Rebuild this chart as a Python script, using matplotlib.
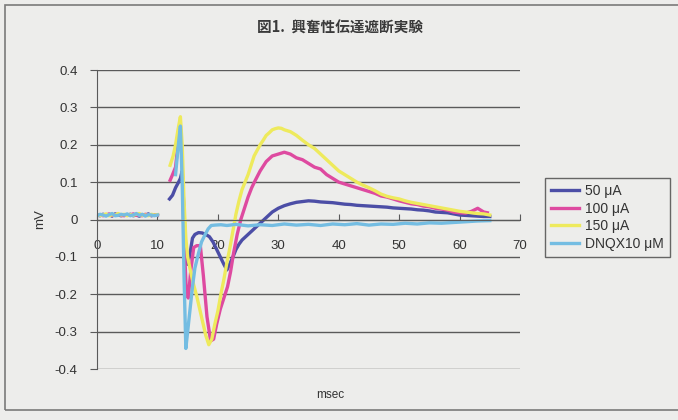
import matplotlib
matplotlib.use("Agg")
import matplotlib.pyplot as plt
import numpy as np
from matplotlib.patches import Rectangle

plt.rcParams['font.family'] = ['Liberation Sans', 'Noto Sans CJK JP', 'DejaVu Sans']

# pre-stimulus baseline, 0-10 msec every 0.5 msec
t_base = [0, 0.5, 1, 1.5, 2, 2.5, 3, 3.5, 4, 4.5, 5, 5.5, 6, 6.5, 7, 7.5, 8, 8.5, 9, 9.5, 10]
base_50 = [0.012, 0.010, 0.014, 0.011, 0.013, 0.009, 0.015, 0.012, 0.010, 0.013, 0.011,
           0.014, 0.010, 0.012, 0.009, 0.013, 0.011, 0.015, 0.010, 0.012, 0.011]
base_100 = [0.011, 0.013, 0.010, 0.012, 0.015, 0.011, 0.012, 0.014, 0.011, 0.010, 0.013,
            0.012, 0.015, 0.011, 0.012, 0.010, 0.014, 0.012, 0.011, 0.013, 0.012]
base_150 = [0.013, 0.011, 0.012, 0.015, 0.010, 0.013, 0.011, 0.016, 0.012, 0.014, 0.010,
            0.013, 0.011, 0.014, 0.016, 0.011, 0.012, 0.010, 0.014, 0.012, 0.013]
base_dnqx = [0.010, 0.014, 0.012, 0.009, 0.013, 0.016, 0.010, 0.011, 0.014, 0.012, 0.015,
             0.010, 0.012, 0.016, 0.011, 0.014, 0.009, 0.013, 0.012, 0.010, 0.012]

# responses after the stimulus artefact
t_50 = [12.0, 12.5, 13.0, 13.5, 13.8, 14.1, 14.4, 14.7, 15.0, 15.4, 15.8, 16.2, 16.8, 17.4,
        18.0, 18.6, 19.2, 19.8, 20.4, 21.0, 21.5, 22.0, 22.5, 23.0, 23.5, 24.0, 25, 26, 27,
        28, 29, 30, 31, 32, 33, 34, 35, 36, 37, 38, 39, 40, 41, 42, 43, 44, 45, 46, 47, 48,
        49, 50, 51, 52, 53, 54, 55, 56, 57, 58, 59, 60, 61, 62, 63, 64, 65]
v_50 = [0.055, 0.065, 0.085, 0.100, 0.110, 0.130, 0.020, -0.100, -0.120, -0.090, -0.050,
        -0.040, -0.035, -0.036, -0.040, -0.046, -0.060, -0.080, -0.100, -0.120, -0.135,
        -0.118, -0.100, -0.080, -0.066, -0.055, -0.040, -0.025, -0.010, 0.005, 0.020, 0.030,
        0.037, 0.042, 0.046, 0.048, 0.050, 0.049, 0.047, 0.046, 0.045, 0.043, 0.041, 0.040,
        0.038, 0.037, 0.036, 0.035, 0.034, 0.033, 0.031, 0.030, 0.029, 0.028, 0.026, 0.025,
        0.023, 0.020, 0.019, 0.018, 0.015, 0.012, 0.011, 0.010, 0.009, 0.008, 0.008]

t_100 = [12.1, 12.5, 13.0, 13.4, 13.8, 14.1, 14.4, 14.8, 15.1, 15.5, 16.0, 16.5, 17.1, 17.6,
         18.2, 18.8, 19.3, 19.8, 20.4, 21.0, 21.6, 22.1, 22.6, 23.2, 23.8, 24.4, 25.0, 25.6,
         26.2, 27, 28, 29, 30, 31, 32, 33, 34, 35, 36, 37, 38, 39, 40, 41, 42, 43, 44, 45, 46,
         47, 48, 49, 50, 51, 52, 53, 54, 55, 56, 57, 58, 59, 60, 61, 62, 63, 64, 64.6]
v_100 = [0.105, 0.120, 0.140, 0.200, 0.250, 0.150, -0.050, -0.200, -0.210, -0.140, -0.075,
         -0.070, -0.070, -0.150, -0.260, -0.325, -0.320, -0.280, -0.240, -0.210, -0.180,
         -0.140, -0.090, -0.040, 0.000, 0.030, 0.060, 0.085, 0.105, 0.130, 0.155, 0.170,
         0.175, 0.180, 0.175, 0.165, 0.160, 0.150, 0.140, 0.135, 0.120, 0.110, 0.100, 0.095,
         0.090, 0.085, 0.080, 0.075, 0.070, 0.063, 0.060, 0.055, 0.050, 0.046, 0.042, 0.040,
         0.036, 0.034, 0.030, 0.028, 0.025, 0.020, 0.018, 0.017, 0.022, 0.030, 0.020, 0.018]

t_150 = [12.1, 12.6, 13.0, 13.4, 13.8, 14.1, 14.4, 14.7, 15.0, 15.5, 16.0, 16.5, 17.0, 17.5,
         18.0, 18.5, 19.0, 19.5, 20.0, 20.5, 21.0, 21.5, 22.0, 22.5, 23.0, 23.5, 24.0, 24.5,
         25.0, 25.5, 26.0, 26.5, 27.0, 27.5, 28.0, 28.5, 29.0, 29.5, 30.0, 30.5, 31, 32, 33,
         34, 35, 36, 37, 38, 39, 40, 41, 42, 43, 44, 45, 46, 47, 48, 49, 50, 51, 52, 53, 54,
         55, 56, 57, 58, 59, 60, 61, 62, 63, 64, 65]
v_150 = [0.145, 0.170, 0.200, 0.240, 0.275, 0.200, 0.050, -0.050, -0.100, -0.140, -0.175,
         -0.205, -0.240, -0.275, -0.310, -0.335, -0.320, -0.280, -0.245, -0.200, -0.160,
         -0.115, -0.075, -0.030, 0.015, 0.050, 0.080, 0.100, 0.120, 0.145, 0.170, 0.185,
         0.200, 0.212, 0.225, 0.232, 0.240, 0.243, 0.245, 0.244, 0.240, 0.235, 0.225, 0.212,
         0.200, 0.190, 0.175, 0.160, 0.145, 0.130, 0.120, 0.110, 0.100, 0.092, 0.085, 0.077,
         0.068, 0.062, 0.058, 0.055, 0.050, 0.046, 0.043, 0.040, 0.037, 0.034, 0.031, 0.028,
         0.025, 0.022, 0.020, 0.018, 0.016, 0.015, 0.012]

t_dnqx = [13.0, 13.4, 13.8, 14.1, 14.4, 14.7, 15.0, 15.4, 15.8, 16.2, 16.8, 17.3, 17.9, 18.4,
          18.9, 19.5, 20.5, 21.5, 23, 25, 27, 29, 31, 33, 35, 37, 39, 41, 43, 45, 47, 49, 51,
          53, 55, 57, 59, 61, 63, 65]
v_dnqx = [0.120, 0.190, 0.250, 0.100, -0.150, -0.345, -0.300, -0.240, -0.180, -0.130, -0.090,
          -0.060, -0.040, -0.025, -0.016, -0.015, -0.014, -0.016, -0.013, -0.017, -0.014,
          -0.016, -0.012, -0.015, -0.013, -0.016, -0.012, -0.014, -0.011, -0.015, -0.012,
          -0.013, -0.010, -0.012, -0.009, -0.010, -0.008, -0.006, -0.004, -0.003]

labels = ['50 μA', '100 μA', '150 μA', 'DNQX10 μM']
colors = ['#4c4ea6', '#de4aa0', '#eeea5c', '#74bde2']

bg = '#ededeb'
fig = plt.figure(figsize=(6.78, 4.2), dpi=100, facecolor=bg)
ax = fig.add_axes([97 / 678, 1 - 369 / 420, 423 / 678, 299 / 420], facecolor=bg)

# frame around the whole chart
fig.patches.append(Rectangle((5 / 678, 10 / 420), 1.0, 405 / 420, transform=fig.transFigure,
                             fill=False, edgecolor='#7a7a7a', linewidth=1.2))

series = [
    (base_50, t_50, v_50),
    (base_100, t_100, v_100),
    (base_150, t_150, v_150),
    (base_dnqx, t_dnqx, v_dnqx),
]
for (base, t, v), lab, col in zip(series, labels, colors):
    tt = t_base + [np.nan] + t
    vv = base + [np.nan] + v
    ax.plot(tt, vv, color=col, linewidth=2.4, label=lab, solid_joinstyle='round')

ax.set_xlim(0, 70)
ax.set_ylim(-0.4, 0.4)
ax.set_yticks(np.arange(-0.4, 0.41, 0.1))
ax.set_yticklabels(['-0.4', '-0.3', '-0.2', '-0.1', '0', '0.1', '0.2', '0.3', '0.4'])
ax.set_xticks(range(0, 71, 10))
ax.grid(axis='y', color='#5a5a5a', linewidth=1.0)
ax.set_axisbelow(True)

for s in ['top', 'right']:
    ax.spines[s].set_visible(False)
ax.spines['bottom'].set_position(('data', 0))
ax.spines['bottom'].set_color('#5a5a5a')
ax.spines['left'].set_color('#5a5a5a')
ax.tick_params(axis='y', direction='out', length=5, color='#5a5a5a',
               labelsize=9.5, labelcolor='#333333', pad=9)
ax.tick_params(axis='x', direction='in', length=4, color='#5a5a5a',
               labelsize=9.5, labelcolor='#333333', pad=15)

ax.set_ylabel('mV', fontsize=9.5, color='#333333', labelpad=6)
fig.text(330 / 678, 1 - 395 / 420, 'msec', fontsize=8.5, color='#333333',
         ha='center', va='center')
fig.text(340 / 678, 1 - 28 / 420, '図1.  興奮性伝達遮断実験', fontsize=10.5,
         fontweight='bold', color='#3a3a3a', ha='center', va='center',
         family=['Noto Sans CJK JP', 'DejaVu Sans'])

leg = ax.legend(loc='upper left', bbox_to_anchor=(545 / 678, 1 - 178 / 420),
                bbox_transform=fig.transFigure, borderaxespad=0, fontsize=10,
                frameon=True, fancybox=False, borderpad=0.45, handlelength=2.0,
                labelspacing=0.25, handletextpad=0.4)
leg.get_frame().set_edgecolor('#444444')
leg.get_frame().set_facecolor(bg)
leg.get_frame().set_linewidth(1.0)
for txt in leg.get_texts():
    txt.set_color('#333333')

fig.savefig('out.png', dpi=100, facecolor=bg)
